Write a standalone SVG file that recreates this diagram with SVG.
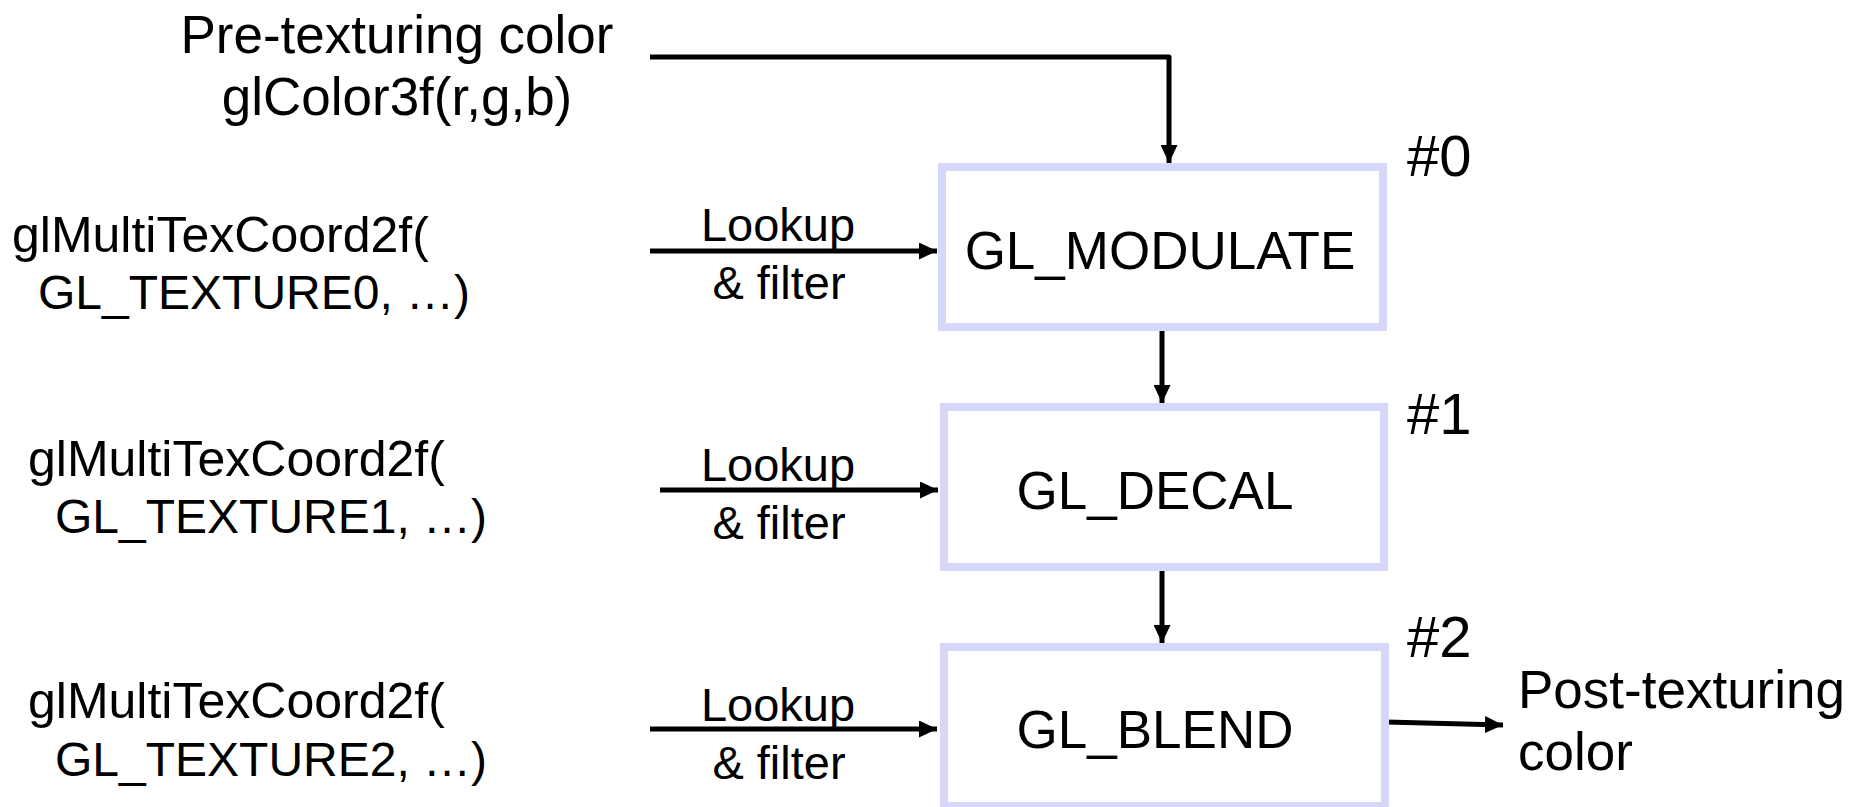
<svg xmlns="http://www.w3.org/2000/svg" width="1864" height="807" viewBox="0 0 1864 807">
<defs>
<marker id="ah" viewBox="0 0 18 17" refX="18" refY="8.5" markerWidth="18" markerHeight="17" markerUnits="userSpaceOnUse" orient="auto">
<path d="M0,0 L18,8.5 L0,17 Z" fill="#000"/>
</marker>
<style>
text{font-family:"Liberation Sans",Arial,sans-serif;fill:#000}
.big{font-size:53px}
.mid{font-size:50px}
.mid2{font-size:48px}
.lab{font-size:47px;text-anchor:middle}
.num{font-size:58px}
.box{fill:#fff;stroke:#D7D7FA;stroke-width:8}
.con{fill:none;stroke:#000;stroke-width:5;stroke-linejoin:round;marker-end:url(#ah)}
</style>
</defs>
<rect width="1864" height="807" fill="#fff"/>
<g id="connectors">
<path class="con" d="M650,57 H1169 V163"/>
<path class="con" d="M650,251 H937"/>
<path class="con" d="M660,490 H938"/>
<path class="con" d="M650,729 H937"/>
<path class="con" d="M1162,331 V403"/>
<path class="con" d="M1162,571 V643"/>
<path class="con" d="M1386,722 L1503,725"/>
<text class="lab" x="778" y="241">Lookup</text>
<text class="lab" x="779" y="299">&amp; filter</text>
<text class="lab" x="778" y="481">Lookup</text>
<text class="lab" x="779" y="539">&amp; filter</text>
<text class="lab" x="778" y="721">Lookup</text>
<text class="lab" x="779" y="779">&amp; filter</text>
</g>
<g id="pre-color">
<text class="big" x="397" y="53" text-anchor="middle">Pre-texturing color</text>
<text class="big" x="397" y="115" text-anchor="middle">glColor3f(r,g,b)</text>
</g>
<g id="coord0">
<text class="mid" x="12" y="252">glMultiTexCoord2f(</text>
<text class="mid2" x="38" y="309">GL_TEXTURE0, …)</text>
</g>
<g id="coord1">
<text class="mid" x="28" y="476">glMultiTexCoord2f(</text>
<text class="mid2" x="55" y="533">GL_TEXTURE1, …)</text>
</g>
<g id="coord2">
<text class="mid" x="28" y="718">glMultiTexCoord2f(</text>
<text class="mid2" x="55" y="776">GL_TEXTURE2, …)</text>
</g>
<g id="unit0">
<rect class="box" x="942" y="167" width="441" height="160"/>
<text class="big" x="1160" y="269" text-anchor="middle">GL_MODULATE</text>
<text class="num" x="1407" y="176">#0</text>
</g>
<g id="unit1">
<rect class="box" x="944" y="407" width="440" height="160"/>
<text class="big" x="1155" y="509" text-anchor="middle">GL_DECAL</text>
<text class="num" x="1407" y="434">#1</text>
</g>
<g id="unit2">
<rect class="box" x="944" y="647" width="441" height="159"/>
<text class="big" x="1155" y="748" text-anchor="middle">GL_BLEND</text>
<text class="num" x="1407" y="657">#2</text>
</g>
<g id="post-color">
<text class="big" x="1518" y="708">Post-texturing</text>
<text class="big" x="1518" y="770">color</text>
</g>
</svg>
